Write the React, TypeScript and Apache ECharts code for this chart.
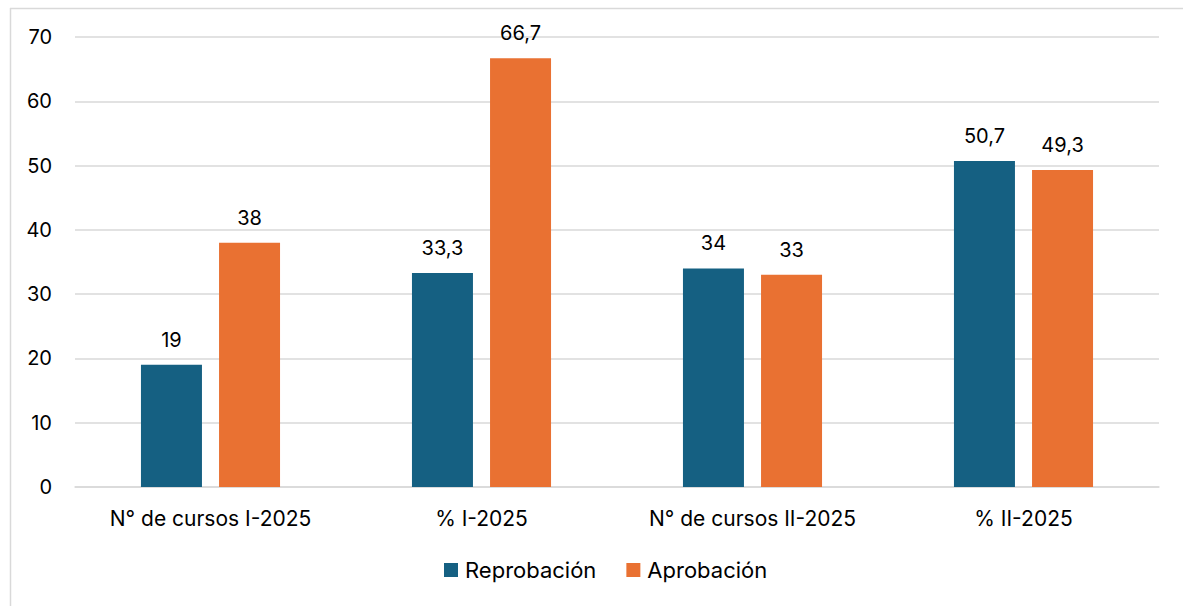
import React, { useEffect, useRef } from "react";
import * as echarts from "echarts";

const categories = ["N° de cursos I-2025", "% I-2025", "N° de cursos II-2025", "% II-2025"];
const reprobacion = [19, 33.3, 34, 50.7];
const aprobacion = [38, 66.7, 33, 49.3];
const seriesNames = ["Reprobación", "Aprobación"];
const yTicks = { min: 0, max: 70, interval: 10 };

const FONT = "Inter, 'Liberation Sans', sans-serif";

export default function App() {
  const ref = useRef<HTMLDivElement>(null);
  useEffect(() => {
    const chart = echarts.init(ref.current!, null, { renderer: "svg" });
    const fmt = (p: any) => String(p.value).replace(".", ",");
    const label = {
      show: true,
      position: "top",
      distance: 15,
      color: "#000",
      fontSize: 20,
      fontFamily: FONT,
      formatter: fmt,
    };
    chart.setOption({
      animation: false,
      backgroundColor: "#fff",
      textStyle: { fontFamily: FONT },
      graphic: [
        { type: "line", shape: { x1: 10.5, y1: 8, x2: 10.5, y2: 606 }, style: { stroke: "#d9d9d9", lineWidth: 1.5 } },
        { type: "line", shape: { x1: 10, y1: 8.5, x2: 1183, y2: 8.5 }, style: { stroke: "#d9d9d9", lineWidth: 1.5 } },
      ],
      grid: { left: 75, right: 24, top: 37, bottom: 119, containLabel: false },
      legend: {
        data: seriesNames,
        bottom: 20,
        left: 439,
        itemWidth: 14,
        itemHeight: 14,
        itemGap: 30,
        icon: "rect",
        textStyle: { fontSize: 22, color: "#000", fontFamily: FONT, padding: [0, 0, 0, 2] },
      },
      xAxis: {
        type: "category",
        data: categories,
        axisLine: { show: true, lineStyle: { color: "#d9d9d9", width: 1.5 } },
        axisTick: { show: false },
        axisLabel: { fontSize: 21, color: "#000", fontFamily: FONT, margin: 21 },
      },
      yAxis: {
        type: "value",
        min: yTicks.min,
        max: yTicks.max,
        interval: yTicks.interval,
        axisLine: { show: false },
        axisTick: { show: false },
        axisLabel: { fontSize: 20, color: "#000", fontFamily: FONT, margin: 23 },
        splitLine: { lineStyle: { color: "#d9d9d9", width: 1.5 } },
      },
      series: [
        {
          name: seriesNames[0],
          type: "bar",
          data: reprobacion,
          barWidth: 61,
          barGap: "28%",
          itemStyle: { color: "#156082" },
          label,
        },
        {
          name: seriesNames[1],
          type: "bar",
          data: aprobacion,
          barWidth: 61,
          itemStyle: { color: "#E97132" },
          label,
        },
      ],
    });
    return () => chart.dispose();
  }, []);
  return (
    <div style={{ position: "absolute", left: 0, top: 0, width: 1183, height: 606 }}>
      <div ref={ref} style={{ width: 1183, height: 606 }} />
    </div>
  );
}
